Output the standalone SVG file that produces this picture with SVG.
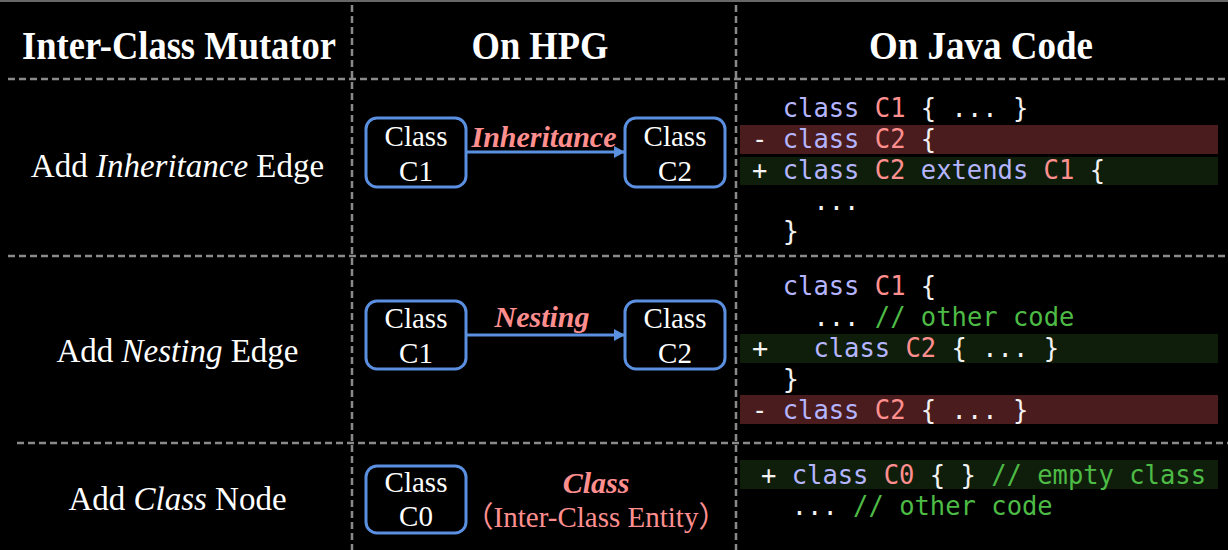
<svg xmlns="http://www.w3.org/2000/svg" width="1228" height="550" viewBox="0 0 1228 550">
<style>
.grid{stroke:#8a8a8a;stroke-width:2.5;stroke-dasharray:7 4;fill:none}
.hdr{font-family:"Liberation Serif",serif;font-weight:bold;font-size:40px;fill:#ffffff;text-anchor:middle}
.row{font-family:"Liberation Serif",serif;font-size:33px;fill:#ffffff;text-anchor:middle}
.box{fill:#000;stroke:#5b8fe0;stroke-width:3}
.nt{font-family:"Liberation Serif",serif;font-size:29px;fill:#ffffff;text-anchor:middle}
.el{font-family:"Liberation Serif",serif;font-size:30px;font-weight:bold;font-style:italic;fill:#ff8f8f;text-anchor:middle}
.conn{stroke:#5b8fe0;stroke-width:3;fill:none}
.code{font-family:"DejaVu Sans Mono","Liberation Mono",monospace;font-size:27px;fill:#f2f2f2}
.kw{fill:#b5b5ff}
.cn{fill:#ff8f8f}
.cm{fill:#4dbb45}
.del{fill:#4a1c1e}
.add{fill:#0f1e0b}
</style>
<defs>
<marker id="arr" markerWidth="11" markerHeight="12" refX="10" refY="6" orient="auto" markerUnits="userSpaceOnUse">
<path d="M0,0 L11,6 L0,12 Z" fill="#5b8fe0"/>
</marker>
</defs>
<rect x="0" y="0" width="1228" height="550" fill="#000"/>
<line x1="0" y1="1" x2="1228" y2="1" stroke="#8a8a8a" stroke-width="1.5"/>
<g id="grid">
<line class="grid" x1="352" y1="5" x2="352" y2="550"/>
<line class="grid" x1="736" y1="5" x2="736" y2="550"/>
<line class="grid" x1="8" y1="79" x2="1228" y2="79"/>
<line class="grid" x1="8" y1="256" x2="1228" y2="256"/>
<line class="grid" x1="17" y1="443" x2="1228" y2="443"/>
</g>
<g id="headers">
<text class="hdr" x="179" y="59" textLength="314" lengthAdjust="spacingAndGlyphs">Inter-Class Mutator</text>
<text class="hdr" x="540" y="59" textLength="137" lengthAdjust="spacingAndGlyphs">On HPG</text>
<text class="hdr" x="981" y="59" textLength="224" lengthAdjust="spacingAndGlyphs">On Java Code</text>
</g>
<g id="row-labels">
<text class="row" x="177.5" y="177">Add <tspan font-style="italic">Inheritance</tspan> Edge</text>
<text class="row" x="177.5" y="362">Add <tspan font-style="italic">Nesting</tspan> Edge</text>
<text class="row" x="177.5" y="510">Add <tspan font-style="italic">Class</tspan> Node</text>
</g>
<g id="node-r1-c1">
<rect class="box" x="366" y="118" width="100" height="69" rx="11"/>
<text class="nt" x="416" y="146">Class</text>
<text class="nt" x="416" y="181">C1</text>
</g>
<g id="node-r1-c2">
<rect class="box" x="625" y="118" width="100" height="69" rx="11"/>
<text class="nt" x="675" y="146">Class</text>
<text class="nt" x="675" y="181">C2</text>
</g>
<g id="node-r2-c1">
<rect class="box" x="366" y="301" width="100" height="68" rx="11"/>
<text class="nt" x="416" y="328">Class</text>
<text class="nt" x="416" y="363">C1</text>
</g>
<g id="node-r2-c2">
<rect class="box" x="625" y="301" width="100" height="68" rx="11"/>
<text class="nt" x="675" y="328">Class</text>
<text class="nt" x="675" y="363">C2</text>
</g>
<g id="node-r3-c0">
<rect class="box" x="366" y="466" width="100" height="67" rx="11"/>
<text class="nt" x="416" y="492">Class</text>
<text class="nt" x="416" y="526">C0</text>
</g>
<g id="connectors">
<line class="conn" x1="466" y1="152" x2="624" y2="152" marker-end="url(#arr)"/>
<text class="el" x="544" y="147">Inheritance</text>
<line class="conn" x1="466" y1="335" x2="624" y2="335" marker-end="url(#arr)"/>
<text class="el" x="542" y="327">Nesting</text>
</g>
<g id="class-entity">
<text class="el" x="596" y="493">Class</text>
<text x="596" y="527" font-family="'Liberation Serif','Noto Sans CJK SC',serif" font-size="29" fill="#ff8f8f" text-anchor="middle">（Inter-Class Entity）</text>
</g>
<g id="code">
<rect class="del" x="740" y="125" width="478" height="29"/>
<rect class="add" x="740" y="157" width="478" height="28"/>
<rect class="add" x="740" y="334" width="478" height="29"/>
<rect class="del" x="740" y="395" width="478" height="29"/>
<rect class="add" x="740" y="460" width="478" height="29"/>
<text class="code" x="782.7" y="117" textLength="245.6" lengthAdjust="spacingAndGlyphs"><tspan class="kw">class</tspan> <tspan class="cn">C1</tspan> { ... }</text>
<text class="code" x="752" y="148" textLength="184.2" lengthAdjust="spacingAndGlyphs">- <tspan class="kw">class</tspan> <tspan class="cn">C2</tspan> {</text>
<text class="code" x="752" y="179" textLength="353" lengthAdjust="spacingAndGlyphs">+ <tspan class="kw">class</tspan> <tspan class="cn">C2</tspan> <tspan class="kw">extends</tspan> <tspan class="cn">C1</tspan> {</text>
<text class="code" x="813.4" y="210" textLength="46" lengthAdjust="spacingAndGlyphs">...</text>
<text class="code" x="782.7" y="240">}</text>
<text class="code" x="782.7" y="295" textLength="153.5" lengthAdjust="spacingAndGlyphs"><tspan class="kw">class</tspan> <tspan class="cn">C1</tspan> {</text>
<text class="code" x="813.4" y="326" textLength="261" lengthAdjust="spacingAndGlyphs">... <tspan class="cm">// other code</tspan></text>
<text class="code" x="752" y="357">+</text>
<text class="code" x="813.4" y="357" textLength="245.6" lengthAdjust="spacingAndGlyphs"><tspan class="kw">class</tspan> <tspan class="cn">C2</tspan> { ... }</text>
<text class="code" x="782.7" y="388">}</text>
<text class="code" x="752" y="419" textLength="276.3" lengthAdjust="spacingAndGlyphs">- <tspan class="kw">class</tspan> <tspan class="cn">C2</tspan> { ... }</text>
<text class="code" x="761" y="484" textLength="445" lengthAdjust="spacingAndGlyphs">+ <tspan class="kw">class</tspan> <tspan class="cn">C0</tspan> { } <tspan class="cm">// empty class</tspan></text>
<text class="code" x="791.7" y="515" textLength="261" lengthAdjust="spacingAndGlyphs">... <tspan class="cm">// other code</tspan></text>
</g>
</svg>
